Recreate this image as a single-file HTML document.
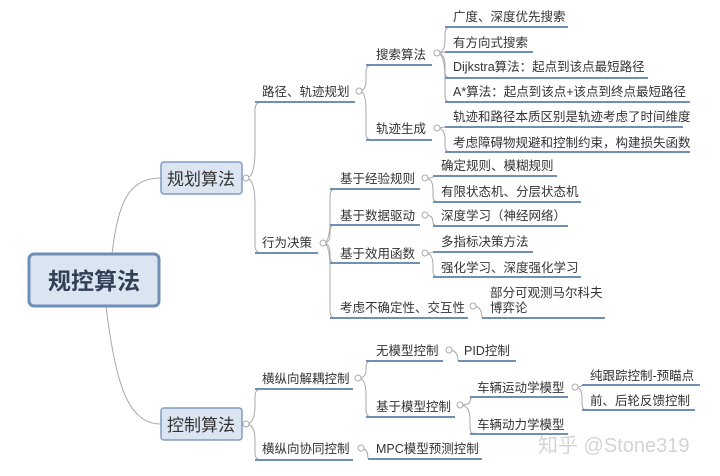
<!DOCTYPE html>
<html><head><meta charset="utf-8"><style>
html,body{margin:0;padding:0;background:#fff;}
svg{display:block;}
text{font-family:"Liberation Sans","Noto Sans CJK SC",sans-serif;font-size:12.5px;fill:#333;}
.u{stroke:#6f8fb3;stroke-width:2;fill:none;}
.c{stroke:#a8a8a8;stroke-width:1;fill:none;}
.o{stroke:#aaa;stroke-width:1;fill:#fff;}
</style></head><body>
<svg width="720" height="476" viewBox="0 0 720 476">
<!-- root connectors -->
<path class="c" d="M112 254 C118 200 130 178 161 178"/>
<path class="c" d="M106 306 C116 390 130 424 161 424"/>
<!-- boxes -->
<rect x="29" y="254" width="130" height="52" rx="5" fill="#dbe5f2" stroke="#6f8fb8" stroke-width="3"/>
<text x="94" y="289" text-anchor="middle" style="font-size:23px;font-weight:bold;fill:#2f3f55">规控算法</text>
<rect x="161" y="162" width="81" height="32" rx="3" fill="#dbe5f2" stroke="#7f9cc0" stroke-width="1.5"/>
<text x="201" y="185" text-anchor="middle" style="font-size:17px">规划算法</text>
<rect x="161" y="408" width="81" height="32" rx="3" fill="#dbe5f2" stroke="#7f9cc0" stroke-width="1.5"/>
<text x="201" y="431" text-anchor="middle" style="font-size:17px">控制算法</text>
<!-- connectors -->
<g class="c">
<path d="M246 178 Q255 178 255 150 L255 110 Q255 102 262 102"/>
<path d="M246 178 Q255 178 255 205 L255 245 Q255 253 262 253"/>
<path d="M359 91 Q366 91 366 80 L366 72 Q366 65 372 65"/>
<path d="M359 91 Q366 91 366 110 L366 133 Q366 140 372 140"/>
<path d="M437 53 Q445 53 445 40 L445 34 Q445 27 451 27"/>
<path d="M437 53 L445 52"/>
<path d="M437 53 Q445 53 445 66 L445 72 Q445 78 451 78"/>
<path d="M437 53 Q445 53 445 80 L445 96 Q445 102 451 102"/>
<path d="M437 128 L445 127"/>
<path d="M437 128 Q445 128 445 140 L445 146 Q445 152 451 152"/>
<path d="M323 243 Q330 243 330 220 L330 196 Q330 189 336 189"/>
<path d="M323 243 Q330 243 330 235 L330 231 Q330 225 336 225"/>
<path d="M323 243 Q330 243 330 253 L330 257 Q330 263 336 263"/>
<path d="M323 243 Q330 243 330 270 L330 311 Q330 318 336 318"/>
<path d="M425 178 Q433 178 433 177 L433 176"/>
<path d="M425 178 Q433 178 433 190 L433 196 Q433 202 439 202"/>
<path d="M425 215 Q433 215 433 222 Q433 226 439 226"/>
<path d="M425 253 Q433 253 433 252"/>
<path d="M425 253 Q433 253 433 265 L433 271 Q433 277 439 277"/>
<path d="M473 306 Q482 306 482 318"/>
<path d="M246 424 Q255 424 255 405 L255 396 Q255 389 262 389"/>
<path d="M246 424 Q255 424 255 440 L255 453 Q255 460 262 460"/>
<path d="M358 378 Q366 378 366 370 L366 367 Q366 361 372 361"/>
<path d="M358 378 Q366 378 366 395 L366 410 Q366 417 372 417"/>
<path d="M449 350 Q458 350 458 361"/>
<path d="M460 405 Q470 405 470 401 Q470 397 476 397"/>
<path d="M460 405 Q470 405 470 420 L470 428 Q470 434 476 434"/>
<path d="M575 387 Q582 387 582 385"/>
<path d="M575 387 Q582 387 582 398 L582 404 Q582 410 588 410"/>
<path d="M361 448 Q368 448 368 459"/>
</g>
<!-- underlines -->
<g class="u">
<path d="M255 102 H355"/><path d="M255 253 H318"/>
<path d="M366 65 H432"/><path d="M366 140 H432"/>
<path d="M445 27 H568"/><path d="M445 52 H533"/><path d="M445 78 H648"/><path d="M445 102 H690"/>
<path d="M445 127 H683"/><path d="M445 152 H690"/>
<path d="M330 189 H420"/><path d="M330 225 H420"/><path d="M330 263 H420"/><path d="M330 318 H468"/>
<path d="M433 176 H557"/><path d="M433 202 H581"/><path d="M433 226 H568"/><path d="M433 252 H533"/><path d="M433 277 H581"/>
<path d="M482 318 H605"/>
<path d="M255 389 H353"/><path d="M255 460 H353"/>
<path d="M366 361 H443"/><path d="M458 361 H516"/>
<path d="M366 417 H455"/>
<path d="M470 397 H568"/><path d="M470 434 H568"/>
<path d="M582 385 H700"/><path d="M582 410 H695"/>
<path d="M368 459 H482"/>
</g>
<!-- collapse circles -->
<g class="o">
<circle cx="246" cy="178" r="3"/><circle cx="359" cy="91" r="3"/><circle cx="323" cy="243" r="3"/>
<circle cx="437" cy="53" r="3"/><circle cx="437" cy="128" r="3"/>
<circle cx="425" cy="178" r="3"/><circle cx="425" cy="215" r="3"/><circle cx="425" cy="253" r="3"/><circle cx="473" cy="306" r="3"/>
<circle cx="246" cy="424" r="3"/><circle cx="358" cy="378" r="3"/><circle cx="361" cy="448" r="3"/>
<circle cx="449" cy="350" r="3"/><circle cx="460" cy="405" r="3"/><circle cx="575" cy="387" r="3"/>
</g>
<!-- texts -->
<text x="262" y="96">路径、轨迹规划</text>
<text x="262" y="247">行为决策</text>
<text x="376" y="59">搜索算法</text>
<text x="376" y="133">轨迹生成</text>
<text x="453" y="21">广度、深度优先搜索</text>
<text x="453" y="47">有方向式搜索</text>
<text x="453" y="71">Dijkstra算法：起点到该点最短路径</text>
<text x="453" y="96">A*算法：起点到该点+该点到终点最短路径</text>
<text x="453" y="121">轨迹和路径本质区别是轨迹考虑了时间维度</text>
<text x="453" y="147">考虑障碍物规避和控制约束，构建损失函数</text>
<text x="340" y="183">基于经验规则</text>
<text x="340" y="220">基于数据驱动</text>
<text x="340" y="258">基于效用函数</text>
<text x="340" y="312">考虑不确定性、交互性</text>
<text x="441" y="170">确定规则、模糊规则</text>
<text x="441" y="196">有限状态机、分层状态机</text>
<text x="441" y="220">深度学习（神经网络）</text>
<text x="441" y="246">多指标决策方法</text>
<text x="441" y="272">强化学习、深度强化学习</text>
<text x="490" y="297">部分可观测马尔科夫</text>
<text x="490" y="312">博弈论</text>
<text x="262" y="383">横纵向解耦控制</text>
<text x="262" y="453">横纵向协同控制</text>
<text x="376" y="355">无模型控制</text>
<text x="464" y="355">PID控制</text>
<text x="376" y="411">基于模型控制</text>
<text x="477" y="392">车辆运动学模型</text>
<text x="477" y="429">车辆动力学模型</text>
<text x="590" y="380">纯跟踪控制-预瞄点</text>
<text x="590" y="405">前、后轮反馈控制</text>
<text x="376" y="453">MPC模型预测控制</text>
<text x="538" y="452" style="font-size:20px;fill:#d4d4d4">知乎 @Stone319</text>
</svg>
</body></html>
